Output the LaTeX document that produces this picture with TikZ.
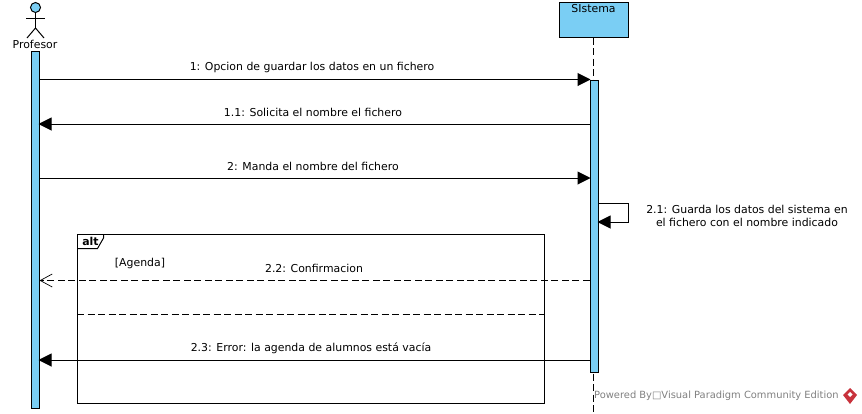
\documentclass[tikz,border=0pt]{standalone}
\usepackage{fontspec}
\setmainfont{DejaVu Sans}
\usetikzlibrary{positioning,shapes,arrows.meta,calc}
\definecolor{skyfill}{HTML}{7ACEF4}
\definecolor{logored}{HTML}{C8323C}
\tikzset{
  msg/.style={font=\fontsize{10.9}{13}\selectfont, inner sep=0pt, align=center},
  bar/.style={draw=black, fill=skyfill, line width=1pt, minimum width=8pt, inner sep=0pt, anchor=north},
  line/.style={black, line width=1pt},
  solid tip/.style={line, shorten >=-1pt, -{Triangle[length=13pt,width=13pt]}},
  open tip/.style={line, dash pattern=on 7pt off 3.5pt, -{Straight Barb[length=12pt,width=13pt,line width=0.7pt]}}
}
\begin{document}
\begin{tikzpicture}[x=1pt,y=-1pt]
  \useasboundingbox (0,0) rectangle (862,413);
  % actor
  \node[circle, draw=black, fill=skyfill, line width=1pt, minimum size=10pt, inner sep=0pt] (head) at (35.5,7.5) {};
  \coordinate (hip) at (35.5,28);
  \coordinate (footL) at (27,38);
  \coordinate (footR) at (44,38);
  \coordinate (armL) at (26,18);
  \coordinate (armR) at (45,18);
  \draw[line] (head) -- (hip);
  \draw[line] (armL) -- (armR);
  \draw[line] (footL) -- (hip) -- (footR);
  \node[msg] (profesor) at (35,44.5) {Profesor};
  % lifelines and bars
  \node[draw=black, fill=skyfill, line width=1pt, minimum width=69pt, minimum height=34.5pt, inner sep=0pt] (sistema) at (594,19.75) {};
  \node[msg] (sistemaName) at (593.5,8.5) {SIstema};
  \coordinate (lifeEnd) at (593.5,413);
  \draw[line, dash pattern=on 7pt off 3.5pt] (sistema.south -| lifeEnd) -- (lifeEnd);
  \node[bar, minimum height=357pt] (profBar) at (35,51) {};
  \node[bar, minimum height=292.5pt] (sisBar) at (594,79.5) {};
  % alt frame
  \node[draw=black, line width=1pt, minimum width=466.5pt, minimum height=168.5pt, inner sep=0pt] (frame) at (310.75,318.75) {};
  \coordinate (tabA) at ($(frame.north west)+(26.5,0)$);
  \coordinate (tabB) at ($(frame.north west)+(26.5,4)$);
  \coordinate (tabC) at ($(frame.north west)+(20.5,14.5)$);
  \coordinate (tabD) at ($(frame.north west)+(0,14.5)$);
  \draw[line] (tabA) -- (tabB) -- (tabC) -- (tabD);
  \node[msg, font=\fontsize{10.9}{13}\selectfont\bfseries] (altName) at (90.5,241) {alt};
  \node[msg] (guard) at (140,263) {[Agenda]};
  \draw[line, dash pattern=on 7pt off 3.5pt] (frame.west |- 0,314.5) -- (frame.east |- 0,314.5);
  % messages
  \draw[solid tip] (profBar.east |- 0,79.5) -- (sisBar.west |- 0,79.5);
  \node[msg] (msgA) at (312,67.5) {1: Opcion de guardar los datos en un fichero};
  \draw[solid tip] (sisBar.west |- 0,124) -- (profBar.east |- 0,124);
  \node[msg] (msgB) at (313,112.5) {1.1: Solicita el nombre el fichero};
  \draw[solid tip] (profBar.east |- 0,178) -- (sisBar.west |- 0,178);
  \node[msg] (msgC) at (313,166.5) {2: Manda el nombre del fichero};
  \draw[solid tip] (sisBar.east |- 0,203) -- (628.5,203) -- (628.5,222) -- (sisBar.east |- 0,222);
  \node[msg] (msgD) at (747,216) {2.1: Guarda los datos del sistema en\\el fichero con el nombre indicado};
  \draw[open tip] (sisBar.west |- 0,280.5) -- (profBar.east |- 0,280.5);
  \node[msg] (msgE) at (314,268.5) {2.2: Confirmacion};
  \draw[solid tip] (sisBar.west |- 0,360) -- (profBar.east |- 0,360);
  \node[msg] (msgF) at (311,348.5) {2.3: Error: la agenda de alumnos está vacía};
  % watermark
  \node[msg, font=\fontsize{9.9}{12}\selectfont, text=gray, anchor=west] (power) at (594,396) {Powered By□Visual Paradigm Community Edition};
  \fill[logored] (850,388) -- (857,395) -- (850,404) -- (843,395) -- cycle;
  \fill[white] (850,392) -- (852.5,394.5) -- (850,397) -- (847.5,394.5) -- cycle;
\end{tikzpicture}
\end{document}
